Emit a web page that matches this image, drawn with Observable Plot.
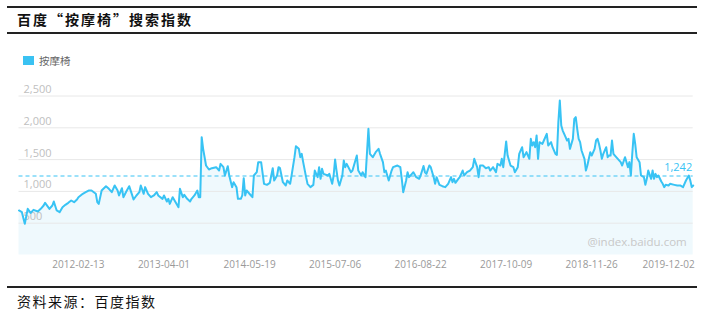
<!DOCTYPE html>
<html>
<head>
<meta charset="utf-8">
<script src="https://cdn.jsdelivr.net/npm/d3@7"></script>
<script src="https://cdn.jsdelivr.net/npm/@observablehq/plot@0.6"></script>
<style>
  html, body { margin: 0; padding: 0; background: #fff; }
  body { width: 703px; height: 311px; overflow: hidden; position: relative; font-family: "Noto Sans CJK SC", sans-serif; }
  .rule { position: absolute; left: 7px; width: 690px; height: 0; border-top: 2px solid #222; }
  #title { position: absolute; left: 17px; top: 9px; font-size: 14px; font-weight: bold; letter-spacing: 2px; line-height: 20px; color: #111; white-space: nowrap; }
  #legend { position: absolute; left: 23px; top: 53px; height: 14px; font-size: 10.5px; color: #666; display: flex; align-items: center; white-space: nowrap; }
  #legend i { display: inline-block; width: 11px; height: 9px; background: #3ac2f2; margin-right: 5px; }
  #chart { position: absolute; left: 0; top: 35px; }
  #source { position: absolute; left: 17px; top: 291px; font-size: 14px; letter-spacing: 1.5px; line-height: 20px; color: #111; white-space: nowrap; }
</style>
</head>
<body>
<div class="rule" style="top:6px"></div>
<div id="title"></div>
<div class="rule" style="top:32px"></div>
<div id="legend"><i></i><span id="legendText"></span></div>
<div id="chart"></div>
<div class="rule" style="top:286px"></div>
<div id="source"></div>
<script>
// ---- texts ----
const titleText = "百度“按摩椅”搜索指数";
const seriesName = "按摩椅";
const sourceText = "资料来源：百度指数";
const watermark = ["@index.baidu.com"];

// ---- data: weekly Baidu index, week offsets relative to baseDate ----
const baseDate = "2012-02-13";
const domainWeeks = [-41, 424];
const weeks = [
  -41,-39,-37,-35,-33,-31,-28,-26,-24,-23,-20,-18,-17,-15,-13,-11,-9,-7,-5,-3,-1,
  0,3,5,7,9,12,13,14,16,19,21,23,25,27,28,30,31,33,35,37,38,40,42,43,45,46,48,50,
  52,54,55,58,59,61,62,63,65,67,69,70,72,73,75,77,78,80,82,83,84,85,86,88,90,92,95,97,98,
  100,101,103,104,106,107,109,110,112,113,114,115,116,119,120,121,123,124,126,128,130,132,134,135,137,138,139,
  141,143,144,146,147,149,150,152,153,154,155,157,158,160,162,163,165,166,167,168,169,172,173,175,176,177,178,179,
  180,182,183,184,185,187,188,189,190,192,193,195,196,198,200,201,203,205,207,208,210,211,212,214,216,217,
  220,222,223,224,226,227,228,230,231,233,235,236,238,239,240,242,243,245,246,247,249,251,253,255,257,258,259,
  260,262,263,265,266,268,270,272,273,275,276,277,279,281,283,284,286,288,289,291,292,293,295,296,298,
  300,301,303,304,306,307,309,311,312,313,314,315,316,317,318,320,321,323,324,326,327,329,330,331,332,333,334,336,337,338,339,
  341,342,343,344,345,346,347,349,350,351,353,354,356,357,358,359,360,361,362,364,365,366,367,368,369,370,372,374,375,377,379,
  380,381,382,383,384,385,387,388,390,391,392,393,395,396,397,398,399,400,402,403,404,405,407,408,411,413,415,417,419,421,422,423,424
];
const values = [
  700,673,490,726,663,710,684,726,778,820,726,778,841,700,673,752,789,820,857,831,873,
  909,962,988,1014,1014,962,831,804,1014,1082,1040,988,1093,1014,936,1050,909,998,1082,946,873,936,988,1093,962,1067,962,909,
  936,988,936,883,936,841,883,804,909,831,752,1040,909,946,883,841,883,936,1014,909,909,1853,1669,1407,1344,1365,1381,1328,1433,
  1381,1250,1397,1250,1067,1145,1067,883,883,936,1208,936,1014,936,909,1250,1302,1460,1460,1119,1103,1135,1365,1171,1250,1381,1365,
  1145,1093,1171,1120,1250,1538,1711,1669,1538,1591,1460,1224,1119,1067,1103,1328,1224,1381,1198,1355,1276,1250,1276,1119,1250,1502,1328,1171,
  1093,1250,1486,1381,1433,1344,1302,1328,1407,1564,1328,1250,1302,1224,1984,1591,1538,1617,1669,1591,1460,1302,1328,1171,1328,1381,
  1407,1381,1198,988,1171,1302,1224,1276,1302,1224,1198,1250,1400,1300,1276,1407,1381,1224,1119,1224,1103,1082,1067,1119,1224,1145,1198,
  1135,1198,1224,1328,1250,1302,1328,1381,1512,1381,1224,1407,1407,1365,1381,1328,1381,1302,1433,1407,1512,1381,1785,1564,1407,
  1381,1302,1381,1591,1695,1538,1617,1512,1826,1722,1774,1695,1879,1512,1774,1748,1800,1905,1722,1774,1695,1591,1575,2089,2430,2036,1957,1853,1800,1826,1669,
  1826,2141,2167,1984,1826,1774,1643,1512,1328,1407,1617,1564,1669,1800,1826,1748,1643,1512,1591,1695,1538,1564,1564,1800,1591,1564,1512,1460,1407,1538,1381,
  1460,1250,1600,1905,1748,1538,1460,1250,1224,1103,1198,1328,1198,1328,1198,1276,1224,1250,1156,1119,1067,1103,1093,1119,1103,1093,1093,1067,1171,1250,1171,1067,1093
];

// ---- axes / reference ----
const xTickLabels = ["2012-02-13","2013-04-01","2014-05-19","2015-07-06","2016-08-22","2017-10-09","2018-11-26","2019-12-02"];
const yTicks = [500, 1000, 1500, 2000, 2500];
const yTickLabels = ["500", "1,000", "1,500", "2,000", "2,500"];
const yDomain = [0, 2500];
const avgValue = [1242];
const avgLabel = ["1,242"];

// ---- colors ----
const lineColor = "#38c3f4";
const areaColor = "#eff9fd";

document.getElementById("title").textContent = titleText;
document.getElementById("legendText").textContent = seriesName;
document.getElementById("source").textContent = sourceText;

const parse = d3.utcParse("%Y-%m-%d");
const base = parse(baseDate);
const toDate = w => d3.utcDay.offset(base, 7 * w);
const data = weeks.map((w, i) => ({date: toDate(w), value: values[i]}));
const xTicks = xTickLabels.map(parse);

const chart = Plot.plot({
  width: 703,
  height: 250,
  marginLeft: 18.5,
  marginRight: 10.3,
  marginTop: 60.5,
  marginBottom: 30.5,
  style: {background: "transparent", fontFamily: "'Open Sans', 'Noto Sans', sans-serif", overflow: "visible"},
  x: {type: "utc", domain: domainWeeks.map(toDate), axis: null},
  y: {domain: yDomain, axis: null},
  marks: [
    Plot.areaY(data, {x: "date", y: "value", fill: areaColor}),
    Plot.ruleY(yTicks, {stroke: "#e8e8e8", strokeWidth: 1}),
    Plot.text(yTicks, {y: d => d, text: (d, i) => yTickLabels[i], frameAnchor: "left", textAnchor: "start", lineAnchor: "middle", dx: 4.5, dy: -6.5, fill: "#c0c0c0", fontSize: 11}),
    Plot.text(xTicks, {x: d => d, text: (d, i) => xTickLabels[i], frameAnchor: "bottom", textAnchor: "middle", lineAnchor: "middle", dy: 9.5, fill: "#999", fontSize: 10}),
    Plot.text(watermark, {text: d => d, frameAnchor: "bottom-right", textAnchor: "end", lineAnchor: "middle", dx: -6.5, dy: -12.5, fill: "#c8c8c8", fontSize: 11.5}),
    Plot.ruleY(avgValue, {stroke: lineColor, strokeWidth: 1, strokeDasharray: "4,3"}),
    Plot.text(avgValue, {y: d => d, text: (d, i) => avgLabel[i], frameAnchor: "right", textAnchor: "end", lineAnchor: "middle", dx: -1, dy: -9, fill: lineColor, fontSize: 11}),
    Plot.lineY(data, {x: "date", y: "value", stroke: lineColor, strokeWidth: 2, strokeLinejoin: "round"})
  ]
});
document.getElementById("chart").appendChild(chart);
</script>
</body>
</html>
